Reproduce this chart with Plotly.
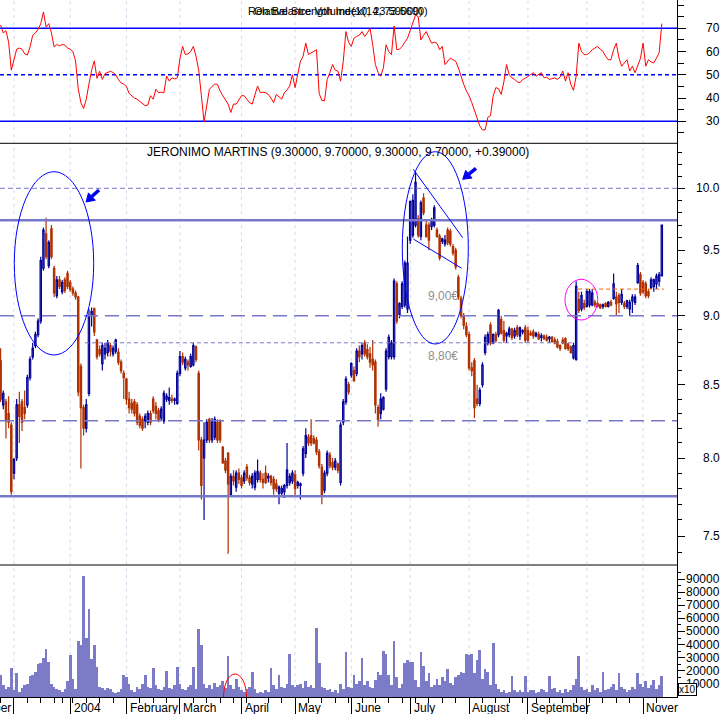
import math
import pandas as pd
import plotly.graph_objects as go

# ---------------- data ----------------
HOLIDAYS = {"2003-12-25", "2003-12-26", "2004-01-01", "2004-04-09", "2004-04-12"}
DAYS = [d for d in pd.bdate_range("2003-11-24", "2004-11-10")
        if d.strftime("%Y-%m-%d") not in HOLIDAYS]

OPEN = [
    8.67, 8.36, 8.38, 8.30, 8.22, 7.90, 8.00, 8.36, 8.38, 8.34,
    8.36, 8.55, 8.70, 8.78, 8.86, 8.96, 9.36, 9.63, 9.38, 9.67,
    9.36, 9.15, 9.27, 9.18, 9.27, 9.32, 9.25, 9.20, 9.17, 9.14,
    8.63, 8.34, 8.20, 8.44, 9.00, 9.05, 8.82, 8.75, 8.65, 8.72,
    8.73, 8.78, 8.72, 8.74, 8.73, 8.66, 8.58, 8.54, 8.40, 8.37,
    8.38, 8.36, 8.28, 8.26, 8.25, 8.24, 8.30, 8.40, 8.35, 8.32,
    8.27, 8.25, 8.40, 8.39, 8.40, 8.39, 8.37, 8.58, 8.70, 8.62,
    8.66, 8.63, 8.64, 8.77, 8.58, 8.12, 8.00, 8.12, 8.26, 8.12,
    8.14, 8.24, 8.25, 8.07, 7.98, 8.03, 7.76, 7.88, 7.81, 7.90,
    7.87, 7.85, 7.94, 7.87, 7.83, 7.81, 7.86, 7.90, 7.86, 7.90,
    7.87, 7.88, 7.86, 7.83, 7.77, 7.77, 7.78, 7.82, 7.84, 7.85,
    7.89, 7.82, 7.82, 7.90, 8.03, 8.14, 8.15, 8.13, 8.12, 8.04,
    7.94, 7.79, 7.90, 8.02, 7.97, 7.94, 7.96, 7.84, 8.24, 8.38,
    8.50, 8.57, 8.60, 8.58, 8.74, 8.72, 8.80, 8.75, 8.72, 8.68,
    8.66, 8.34, 8.30, 8.33, 8.47, 8.70, 8.70, 8.70, 9.24, 9.01,
    9.07, 9.08, 9.05, 9.58, 9.62, 9.70, 9.75, 9.61, 9.92, 9.70,
    9.70, 9.69, 9.70, 9.66, 9.61, 9.57, 9.55, 9.66, 9.65, 9.53,
    9.50, 9.29, 9.13, 9.00, 8.92, 8.86, 8.62, 8.67, 8.40, 8.37,
    8.50, 8.73, 8.80, 8.93, 8.80, 8.86, 8.86, 8.97, 8.89, 8.85,
    8.86, 8.90, 8.85, 8.91, 8.85, 8.88, 8.91, 8.89, 8.87, 8.88,
    8.85, 8.86, 8.84, 8.85, 8.84, 8.83, 8.84, 8.82, 8.81, 8.78,
    8.82, 8.83, 8.79, 8.77, 8.69, 8.68, 9.12, 9.05, 9.09, 9.07,
    9.08, 9.08, 9.10, 9.09, 9.08, 9.07, 9.09, 9.07, 9.10, 9.13,
    9.14, 9.15, 9.10, 9.09, 9.07, 9.05, 9.11, 9.10, 9.25, 9.31,
    9.25, 9.24, 9.18, 9.21, 9.22, 9.24, 9.26, 9.30,
]
HIGH = [
    8.76, 8.46, 8.40, 8.42, 8.24, 8.00, 8.40, 8.45, 8.40, 8.46,
    8.57, 8.70, 8.80, 8.88, 8.98, 9.45, 9.68, 9.76, 9.58, 9.70,
    9.38, 9.30, 9.30, 9.27, 9.29, 9.34, 9.27, 9.22, 9.19, 9.15,
    8.65, 8.36, 8.40, 9.05, 9.06, 9.06, 8.83, 8.78, 8.80, 8.80,
    8.82, 8.80, 8.78, 8.83, 8.76, 8.68, 8.60, 8.55, 8.45, 8.40,
    8.40, 8.38, 8.30, 8.28, 8.30, 8.32, 8.32, 8.42, 8.38, 8.34,
    8.35, 8.46, 8.44, 8.48, 8.43, 8.41, 8.60, 8.74, 8.73, 8.70,
    8.68, 8.72, 8.80, 8.78, 8.60, 8.14, 8.24, 8.26, 8.27, 8.27,
    8.28, 8.26, 8.26, 8.08, 8.00, 8.04, 7.90, 7.92, 7.92, 7.93,
    7.89, 7.92, 7.96, 7.89, 7.90, 7.92, 7.99, 7.92, 7.90, 7.95,
    7.90, 7.89, 7.88, 7.86, 7.82, 7.82, 7.83, 8.10, 7.90, 7.92,
    7.92, 7.85, 7.84, 8.08, 8.20, 8.16, 8.26, 8.15, 8.14, 8.06,
    7.96, 7.92, 8.05, 8.04, 8.00, 8.00, 7.97, 8.24, 8.40, 8.56,
    8.52, 8.66, 8.63, 8.76, 8.78, 8.80, 8.82, 8.79, 8.77, 8.82,
    8.68, 8.36, 8.44, 8.42, 8.76, 8.86, 8.82, 9.28, 9.26, 9.10,
    9.26, 9.42, 9.61, 9.90, 9.95, 10.13, 9.78, 9.90, 9.96, 9.74,
    9.72, 9.76, 9.86, 9.68, 9.63, 9.60, 9.62, 9.68, 9.67, 9.55,
    9.52, 9.31, 9.15, 9.02, 8.95, 8.88, 8.66, 8.69, 8.50, 8.48,
    8.66, 8.86, 8.88, 8.95, 8.87, 8.88, 9.05, 9.00, 8.96, 8.88,
    8.92, 8.91, 8.91, 8.93, 8.92, 8.90, 8.93, 8.92, 8.89, 8.90,
    8.88, 8.88, 8.87, 8.86, 8.86, 8.85, 8.85, 8.84, 8.83, 8.79,
    8.84, 8.84, 8.80, 8.78, 8.80, 9.26, 9.18, 9.18, 9.12, 9.20,
    9.20, 9.20, 9.12, 9.10, 9.09, 9.09, 9.10, 9.11, 9.12, 9.32,
    9.18, 9.17, 9.20, 9.11, 9.12, 9.12, 9.16, 9.16, 9.40, 9.33,
    9.27, 9.26, 9.20, 9.29, 9.28, 9.32, 9.33, 9.70,
]
LOW = [
    8.38, 8.33, 8.13, 8.20, 7.76, 7.86, 7.98, 8.10, 8.18, 8.26,
    8.34, 8.53, 8.68, 8.76, 8.84, 8.94, 9.34, 9.43, 9.36, 9.43,
    9.14, 9.13, 9.20, 9.16, 9.17, 9.20, 9.18, 9.15, 9.12, 8.42,
    7.93, 8.15, 8.17, 8.42, 8.92, 8.85, 8.68, 8.70, 8.60, 8.68,
    8.70, 8.70, 8.70, 8.72, 8.64, 8.58, 8.40, 8.36, 8.30, 8.30,
    8.28, 8.22, 8.20, 8.18, 8.20, 8.22, 8.22, 8.30, 8.26, 8.24,
    8.25, 8.23, 8.38, 8.36, 8.37, 8.36, 8.36, 8.56, 8.64, 8.60,
    8.60, 8.62, 8.63, 8.66, 8.05, 7.73, 7.60, 8.10, 8.10, 8.10,
    8.12, 8.10, 8.10, 7.96, 7.90, 7.39, 7.75, 7.82, 7.78, 7.83,
    7.80, 7.83, 7.85, 7.82, 7.80, 7.79, 7.84, 7.84, 7.80, 7.83,
    7.84, 7.82, 7.76, 7.78, 7.70, 7.75, 7.74, 7.80, 7.82, 7.83,
    7.75, 7.80, 7.73, 7.88, 8.00, 8.08, 8.08, 8.09, 8.02, 7.93,
    7.70, 7.77, 7.88, 7.93, 7.92, 7.92, 7.90, 7.82, 8.22, 8.36,
    8.43, 8.55, 8.52, 8.56, 8.66, 8.68, 8.70, 8.68, 8.62, 8.60,
    8.30, 8.21, 8.26, 8.32, 8.45, 8.68, 8.68, 8.68, 8.94, 8.98,
    9.05, 9.06, 9.02, 9.55, 9.60, 9.68, 9.60, 9.58, 9.78, 9.60,
    9.50, 9.66, 9.68, 9.60, 9.42, 9.55, 9.53, 9.54, 9.53, 9.46,
    9.35, 9.12, 8.98, 8.90, 8.84, 8.60, 8.56, 8.27, 8.35, 8.35,
    8.48, 8.71, 8.78, 8.78, 8.79, 8.80, 8.84, 8.86, 8.80, 8.80,
    8.84, 8.82, 8.83, 8.84, 8.82, 8.86, 8.80, 8.80, 8.85, 8.83,
    8.84, 8.82, 8.81, 8.82, 8.81, 8.80, 8.80, 8.79, 8.76, 8.74,
    8.79, 8.75, 8.74, 8.72, 8.68, 8.67, 9.02, 9.03, 9.04, 9.06,
    9.06, 9.07, 9.06, 9.06, 9.05, 9.05, 9.06, 9.06, 9.07, 9.12,
    9.00, 9.02, 9.08, 9.05, 9.05, 9.00, 9.02, 9.08, 9.24, 9.15,
    9.16, 9.13, 9.13, 9.20, 9.18, 9.20, 9.22, 9.30,
]
CLOSE = [
    8.40, 8.44, 8.25, 8.24, 7.78, 7.99, 8.36, 8.28, 8.24, 8.30,
    8.55, 8.68, 8.76, 8.86, 8.96, 9.42, 9.66, 9.45, 9.56, 9.45,
    9.17, 9.27, 9.22, 9.25, 9.19, 9.22, 9.20, 9.17, 9.14, 8.45,
    8.34, 8.20, 8.36, 9.00, 9.03, 8.88, 8.70, 8.72, 8.78, 8.76,
    8.80, 8.74, 8.76, 8.82, 8.66, 8.60, 8.55, 8.40, 8.34, 8.33,
    8.30, 8.24, 8.22, 8.20, 8.28, 8.30, 8.24, 8.32, 8.30, 8.26,
    8.33, 8.44, 8.42, 8.41, 8.39, 8.40, 8.58, 8.70, 8.66, 8.68,
    8.64, 8.70, 8.78, 8.68, 8.12, 7.82, 8.12, 8.24, 8.12, 8.25,
    8.26, 8.12, 8.12, 7.97, 7.92, 7.83, 7.88, 7.85, 7.90, 7.86,
    7.82, 7.90, 7.87, 7.84, 7.88, 7.90, 7.91, 7.86, 7.84, 7.84,
    7.88, 7.84, 7.80, 7.80, 7.81, 7.80, 7.82, 7.92, 7.88, 7.90,
    7.80, 7.84, 7.83, 8.06, 8.15, 8.10, 8.10, 8.10, 8.04, 7.95,
    7.76, 7.90, 8.03, 7.95, 7.94, 7.98, 7.92, 8.22, 8.38, 8.54,
    8.45, 8.65, 8.53, 8.74, 8.70, 8.78, 8.72, 8.70, 8.66, 8.64,
    8.36, 8.26, 8.40, 8.41, 8.74, 8.84, 8.80, 9.26, 8.96, 9.09,
    9.24, 9.40, 9.40, 9.89, 9.90, 10.05, 9.62, 9.88, 9.80, 9.61,
    9.58, 9.74, 9.84, 9.61, 9.44, 9.59, 9.58, 9.56, 9.55, 9.48,
    9.37, 9.14, 9.00, 8.93, 8.86, 8.62, 8.60, 8.34, 8.37, 8.46,
    8.64, 8.84, 8.86, 8.80, 8.86, 8.82, 9.04, 8.87, 8.82, 8.87,
    8.90, 8.84, 8.89, 8.86, 8.91, 8.89, 8.82, 8.82, 8.86, 8.85,
    8.87, 8.83, 8.85, 8.83, 8.82, 8.84, 8.81, 8.80, 8.77, 8.76,
    8.80, 8.76, 8.76, 8.73, 8.78, 9.22, 9.04, 9.15, 9.06, 9.18,
    9.18, 9.17, 9.08, 9.07, 9.06, 9.08, 9.07, 9.10, 9.08, 9.24,
    9.09, 9.10, 9.16, 9.07, 9.11, 9.10, 9.14, 9.14, 9.38, 9.17,
    9.18, 9.15, 9.15, 9.27, 9.27, 9.30, 9.31, 9.70,
]
VOLUME_K = [  # thousands of shares
    17, 9, 6, 8, 22, 5, 18, 4, 7, 9,
    10, 16, 17, 19, 25, 26, 30, 37, 27, 10,
    8, 6, 5, 4, 6, 12, 32, 14, 6, 43,
    40, 92, 45, 67, 29, 40, 23, 8, 7, 5,
    7, 6, 4, 3, 4, 6, 17, 15, 10, 5,
    4, 8, 6, 10, 17, 8, 7, 22, 9, 6,
    5, 8, 20, 7, 6, 9, 23, 10, 6, 5,
    8, 9, 23, 6, 52, 40, 10, 7, 9, 6,
    11, 8, 9, 12, 7, 31, 9, 6, 14, 8,
    5, 4, 6, 8, 19, 6, 3, 4, 3, 5,
    4, 22, 9, 6, 17, 8, 7, 10, 33, 9,
    8, 9, 10, 7, 12, 8, 9, 7, 53, 26,
    8, 7, 5, 6, 4, 5, 3, 10, 6, 34,
    8, 7, 17, 10, 12, 30, 9, 12, 8, 7,
    13, 19, 17, 35, 33, 17, 9, 43, 15, 7,
    10, 26, 28, 27, 27, 13, 8, 34, 24, 12,
    18, 8, 9, 14, 9, 15, 12, 21, 11, 9,
    15, 17, 19, 18, 33, 32, 33, 18, 28, 36,
    14, 21, 19, 9, 41, 10, 6, 4, 5, 3,
    4, 16, 5, 4, 5, 4, 16, 4, 5, 5,
    3, 4, 6, 5, 4, 16, 6, 7, 4, 5,
    3, 6, 4, 5, 9, 14, 31, 8, 5, 6,
    4, 9, 5, 7, 4, 19, 5, 6, 8, 10,
    5, 18, 8, 6, 4, 5, 8, 6, 18, 10,
    8, 12, 7, 9, 13, 6, 9, 16,
]
RSI = [
    71.4, 68, 69, 64, 52, 56, 61, 61.5, 61, 59,
    58.5, 62, 67, 68, 69.5, 72, 77, 70.5, 72, 68,
    62, 63, 62.5, 63, 62.8, 61.5, 61, 60, 56, 44,
    38, 35.5, 39.5, 46, 52, 56, 48.5, 51.5, 48, 50.5,
    51, 51.5, 51, 50, 48, 46.5, 46, 45, 42, 41,
    40, 39.5, 38.5, 37.5, 36.7, 37, 41, 39.5, 43.8, 42.3,
    42.5, 42.3, 49.5, 47.3, 48.7, 48.2, 48.7, 57, 62.2, 58.7,
    59, 60, 62.2, 58, 52, 41, 29.7, 36.7, 43.8, 45,
    46, 45.9, 43, 41, 39, 37.4, 33.8, 37.4, 37.4, 39,
    41, 41, 39.5, 38, 37.4, 41, 45.2, 42.3, 42.5, 42.3,
    41.6, 40, 38, 41.6, 40.5, 39.5, 42.3, 43.5, 45.2, 50,
    44.5, 50, 55.8, 58, 63.6, 58.7, 59.4, 60, 60.8, 42,
    39, 38.8, 48, 51, 54.4, 52, 51.6, 47.3, 55.8, 68.6,
    64, 62.2, 65.7, 66.5, 67, 68.6, 66.5, 68, 70, 63,
    54.4, 51, 49.4, 53, 62.9, 60, 58.7, 71, 60.8, 61,
    62.2, 64, 65.7, 69, 72, 75.7, 75, 65, 67, 68.6,
    66, 63.6, 64, 63.6, 60.8, 62.2, 54.4, 56, 57.2, 56.5,
    55.8, 53, 49, 45.9, 43, 40.9, 38.1, 35, 31.7, 28,
    26.3, 26.3, 31.7, 32.4, 40.9, 44.5, 44, 41.6, 47, 54.4,
    50, 48.7, 48, 47, 46.6, 48, 48.5, 49.4, 50, 50.9,
    49.4, 50, 50.9, 48.7, 49, 48, 48.5, 48.7, 48, 49,
    51.6, 47.3, 50.9, 45.9, 43.3, 49.4, 63.6, 60, 58.7, 58.7,
    59.5, 60.8, 61.5, 62.2, 61, 60.1, 58, 56.5, 56.5, 60.8,
    63.6, 57.2, 53.7, 55, 56.5, 51.6, 53.7, 50.9, 54.4, 57,
    63.6, 53.7, 56.5, 55.5, 55.1, 57, 59.4, 72,
]

RSI_TICKS = [30, 40, 50, 60, 70]
PRICE_TICKS = [7.5, 8.0, 8.5, 9.0, 9.5, 10.0]
VOL_TICKS = [10000, 20000, 30000, 40000, 50000, 60000, 70000, 80000, 90000]
MONTH_TEXT = {1: "2004", 2: "February", 3: "March", 4: "April", 5: "May", 6: "June",
              7: "July", 8: "August", 9: "September", 11: "Nover"}

RSI_BANDS = [30, 70]
RSI_MID = 50
RESIST = 9.74
SUPPORT = 7.75
DASH_LEVELS = [9.0, 8.25]
DOT_TOP = 10.0
DOT_880 = 8.80
DOT_880_SPAN = (31.5, 214.0)
ORANGE_920 = 9.20
ORANGE_SPAN = (215.7, 247.8)

N = len(CLOSE)
assert all(len(a) == N for a in (OPEN, HIGH, LOW, VOLUME_K, RSI, DAYS)), \
    [len(a) for a in (OPEN, HIGH, LOW, CLOSE, VOLUME_K, RSI, DAYS)]
X = list(range(N))
VOLUME = [v * 1000 for v in VOLUME_K]

MONTH_START = [i for i in range(1, N) if DAYS[i].month != DAYS[i - 1].month]
WEEK_START = [i for i in range(N) if DAYS[i].weekday() == 0 and i not in MONTH_START]

# ---------------- geometry ----------------
W, H = 725, 714
ML, MR, MT, MB = 0, 48, 0, 17
PW, PH = W - ML - MR, H - MT - MB
PX_PER_DAY = 2.677
X0_PX = 0.6
XR = [(0 - X0_PX) / PX_PER_DAY, (PW - X0_PX) / PX_PER_DAY]


def px(v):
    return v / PW


def py(v):
    return (PH - v) / PH


RSI_DOM = [py(143.3), 1.0]
PRICE_DOM = [py(565), py(143.3)]
VOL_DOM = [0.0, py(565)]

UP = "#000099"
DOWN = "#B03000"
LEVEL = "#7878C8"
VOLC = "#7B7BC8"
GRID = "#D8D8F2"
FONT = "Liberation Sans, Arial, sans-serif"

fig = go.Figure()

# volume
fig.add_trace(go.Bar(x=X, y=VOLUME, yaxis="y3", marker=dict(color=VOLC, line=dict(width=0)),
                     width=1.0, hoverinfo="skip"))

# candles
fig.add_trace(go.Candlestick(
    x=X, open=OPEN, high=HIGH, low=LOW, close=CLOSE, yaxis="y2",
    increasing=dict(line=dict(color=UP, width=1.2), fillcolor="white"),
    decreasing=dict(line=dict(color=DOWN, width=1.2), fillcolor=DOWN),
    whiskerwidth=0, hoverinfo="skip"))


def hline(y, axis, color, width, dash="solid", span=None):
    xs = list(span) if span else XR
    fig.add_trace(go.Scatter(x=xs, y=[y, y], yaxis=axis, mode="lines",
                             line=dict(color=color, width=width, dash=dash), hoverinfo="skip"))


# price levels
hline(DOT_TOP, "y2", LEVEL, 1, "5px,3px")
hline(RESIST, "y2", LEVEL, 2.5)
for lv in DASH_LEVELS:
    hline(lv, "y2", LEVEL, 1.5, "14px,7px")
hline(DOT_880, "y2", LEVEL, 1, "4px,3px", DOT_880_SPAN)
hline(SUPPORT, "y2", LEVEL, 2.5)
hline(ORANGE_920, "y2", "#FF6600", 1, "4px,3px", ORANGE_SPAN)

# RSI
for lv in RSI_BANDS:
    hline(lv, "y", "#0000FF", 1.5)
hline(RSI_MID, "y", "#0000FF", 1.5, "4px,3px")
fig.add_trace(go.Scatter(x=X, y=RSI, yaxis="y", mode="lines",
                         line=dict(color="#FF0000", width=1), hoverinfo="skip"))

# ---------------- shapes ----------------
shapes = []
for i in MONTH_START:
    shapes.append(dict(type="line", xref="x", yref="paper", x0=i, x1=i, y0=0, y1=1, layer="below",
                       line=dict(color=GRID, width=1, dash="3px,4px")))
for yy in (RSI_DOM[0], PRICE_DOM[0]):
    shapes.append(dict(type="line", xref="paper", yref="paper", x0=0, x1=1, y0=yy, y1=yy,
                       line=dict(color="black", width=1)))
# hand-drawn annotation marks
shapes.append(dict(type="circle", xref="paper", yref="paper", x0=px(14.3), x1=px(93.7),
                   y0=py(355), y1=py(171.7), line=dict(color="#0000FF", width=1)))
shapes.append(dict(type="circle", xref="paper", yref="paper", x0=px(402.3), x1=px(468.3),
                   y0=py(344), y1=py(151.7), line=dict(color="#0000FF", width=1)))
shapes.append(dict(type="circle", xref="paper", yref="paper", x0=px(565), x1=px(597.7),
                   y0=py(320), y1=py(279.3), line=dict(color="#FF00FF", width=1)))
shapes.append(dict(type="line", xref="paper", yref="paper", x0=px(413.3), y0=py(169.3),
                   x1=px(462.7), y1=py(237.7), line=dict(color="#0000FF", width=1)))
shapes.append(dict(type="line", xref="paper", yref="paper", x0=px(413.3), y0=py(239),
                   x1=px(461.7), y1=py(268.3), line=dict(color="#0000FF", width=1)))
# red half-ellipse in the volume panel
cx, cy, rx, ry, k = 235.0, 697.0, 11.5, 23.0, 0.5523
path = (f"M {px(cx - rx)},{py(cy)} "
        f"C {px(cx - rx)},{py(cy - k * ry)} {px(cx - k * rx)},{py(cy - ry)} {px(cx)},{py(cy - ry)} "
        f"C {px(cx + k * rx)},{py(cy - ry)} {px(cx + rx)},{py(cy - k * ry)} {px(cx + rx)},{py(cy)}")
shapes.append(dict(type="path", xref="paper", yref="paper", path=path,
                   line=dict(color="#FF0000", width=1)))


# block arrows (head at tip, pointing down-left)
def arrow(tip, tail, head_len=8.0, head_half=5.0, color="#0000EE"):
    dx, dy = tip[0] - tail[0], tip[1] - tail[1]
    ln = math.hypot(dx, dy)
    ux, uy = dx / ln, dy / ln
    bx, by = tip[0] - head_len * ux, tip[1] - head_len * uy
    nx, ny = -uy, ux
    p1 = (bx + head_half * nx, by + head_half * ny)
    p2 = (bx - head_half * nx, by - head_half * ny)
    shapes.append(dict(type="line", xref="paper", yref="paper", x0=px(tail[0]), y0=py(tail[1]),
                       x1=px(bx), y1=py(by), line=dict(color=color, width=3.5)))
    shapes.append(dict(type="path", xref="paper", yref="paper",
                       path=f"M {px(tip[0])},{py(tip[1])} L {px(p1[0])},{py(p1[1])} "
                            f"L {px(p2[0])},{py(p2[1])} Z",
                       fillcolor=color, line=dict(color=color, width=1)))


arrow((86, 202), (99, 190))
arrow((462.7, 179.3), (476, 168.3))

# ---------------- annotations ----------------
ann = []
LBL_X = px(722)
for v in RSI_TICKS:
    ann.append(dict(x=LBL_X, y=v, xref="paper", yref="y", text=str(v), showarrow=False,
                    xanchor="right", yanchor="middle", font=dict(size=12)))
for v in PRICE_TICKS:
    ann.append(dict(x=LBL_X, y=math.log10(v), xref="paper", yref="y2", text=f"{v:.1f}",
                    showarrow=False, xanchor="right", yanchor="middle", font=dict(size=12)))
for v in VOL_TICKS:
    ann.append(dict(x=LBL_X, y=v, xref="paper", yref="y3", text=str(v), showarrow=False,
                    xanchor="right", yanchor="middle", font=dict(size=12)))
ann.append(dict(x=px(687), y=py(689), xref="paper", yref="paper", text="x10", showarrow=False,
                xanchor="center", yanchor="middle", font=dict(size=10), bgcolor="white",
                bordercolor="black", borderwidth=1, borderpad=0))

# month labels
MLBL_Y = py(707.5)
ann.append(dict(x=MONTH_START[0] - 0.4, y=MLBL_Y, xref="x", yref="paper", text="November",
                showarrow=False, xanchor="right", yanchor="middle", font=dict(size=12)))
for i in MONTH_START:
    m = DAYS[i].month
    if m in MONTH_TEXT:
        ann.append(dict(x=i + 0.5, y=MLBL_Y, xref="x", yref="paper", text=MONTH_TEXT[m],
                        showarrow=False, xanchor="left", yanchor="middle", font=dict(size=12)))

# titles
chg = CLOSE[-1] - CLOSE[-2]
title = (f"JERONIMO MARTINS ({OPEN[-1]:.5f}, {HIGH[-1]:.5f}, {LOW[-1]:.5f}, "
         f"{CLOSE[-1]:.5f}, {chg:+.5f})")
ann.append(dict(x=px(338), y=py(152.5), xref="paper", yref="paper", text=title, showarrow=False,
                xanchor="center", yanchor="middle", font=dict(size=12)))
for t in ("Relative Strength Index(14, 73.5690)", "On Balance Volume(10, 23.59000)"):
    ann.append(dict(x=px(338), y=py(11), xref="paper", yref="paper", text=t, showarrow=False,
                    xanchor="center", yanchor="middle", font=dict(size=11)))

# price notes
ann.append(dict(x=px(442.5), y=py(295.5), xref="paper", yref="paper", text="9,00€", showarrow=False,
                font=dict(size=12, color="#909090")))
ann.append(dict(x=px(442.5), y=py(356), xref="paper", yref="paper", text="8,80€", showarrow=False,
                font=dict(size=12, color="#909090")))

fig.update_layout(
    width=W, height=H, margin=dict(l=ML, r=MR, t=MT, b=MB, pad=0),
    paper_bgcolor="white", plot_bgcolor="white", showlegend=False, bargap=0,
    font=dict(family=FONT, size=12, color="black"),
    shapes=shapes, annotations=ann,
    xaxis=dict(domain=[0, 1], range=XR, anchor="y3", showgrid=False, zeroline=False,
               showline=True, linecolor="black", linewidth=1,
               ticks="outside", ticklen=17, tickcolor="black", tickwidth=1,
               tickmode="array", tickvals=MONTH_START, showticklabels=False,
               minor=dict(tickmode="array", tickvals=WEEK_START, ticks="outside",
                          ticklen=5, tickcolor="black", showgrid=False),
               rangeslider=dict(visible=False), fixedrange=True),
    yaxis=dict(domain=RSI_DOM, range=[20.54, 82.17], anchor="x", side="right",
               showgrid=False, zeroline=False, showline=True, linecolor="black", linewidth=1,
               ticks="outside", ticklen=8, tickcolor="black", tickmode="array",
               tickvals=RSI_TICKS, showticklabels=False,
               minor=dict(tickmode="array", tickvals=[25, 35, 45, 55, 65, 75, 80],
                          ticks="outside", ticklen=6, tickcolor="black", showgrid=False)),
    yaxis2=dict(domain=PRICE_DOM, type="log", range=[0.86464, 1.01617], anchor="x", side="right",
                showgrid=False, zeroline=False, showline=True, linecolor="black", linewidth=1,
                ticks="outside", ticklen=7, tickcolor="black", tickmode="array",
                tickvals=PRICE_TICKS, showticklabels=False,
                minor=dict(tickmode="array",
                           tickvals=[7.4, 7.6, 7.7, 7.8, 7.9, 8.1, 8.2, 8.3, 8.4, 8.6, 8.7, 8.8,
                                     8.9, 9.1, 9.2, 9.3, 9.4, 9.6, 9.7, 9.8, 9.9, 10.1, 10.2, 10.3],
                           ticks="outside", ticklen=4, tickcolor="black", showgrid=False)),
    yaxis3=dict(domain=VOL_DOM, range=[0, 100700], anchor="x", side="right",
                showgrid=False, zeroline=False, showline=True, linecolor="black", linewidth=1,
                ticks="outside", ticklen=7, tickcolor="black", tickmode="array",
                tickvals=VOL_TICKS, showticklabels=False,
                minor=dict(tickmode="array",
                           tickvals=[5000, 15000, 25000, 35000, 45000, 55000, 65000, 75000,
                                     85000, 95000],
                           ticks="outside", ticklen=3, tickcolor="black", showgrid=False)),
)

fig.write_html("out.html", config={"displayModeBar": False},
               post_script="document.body.style.margin='0px';")
